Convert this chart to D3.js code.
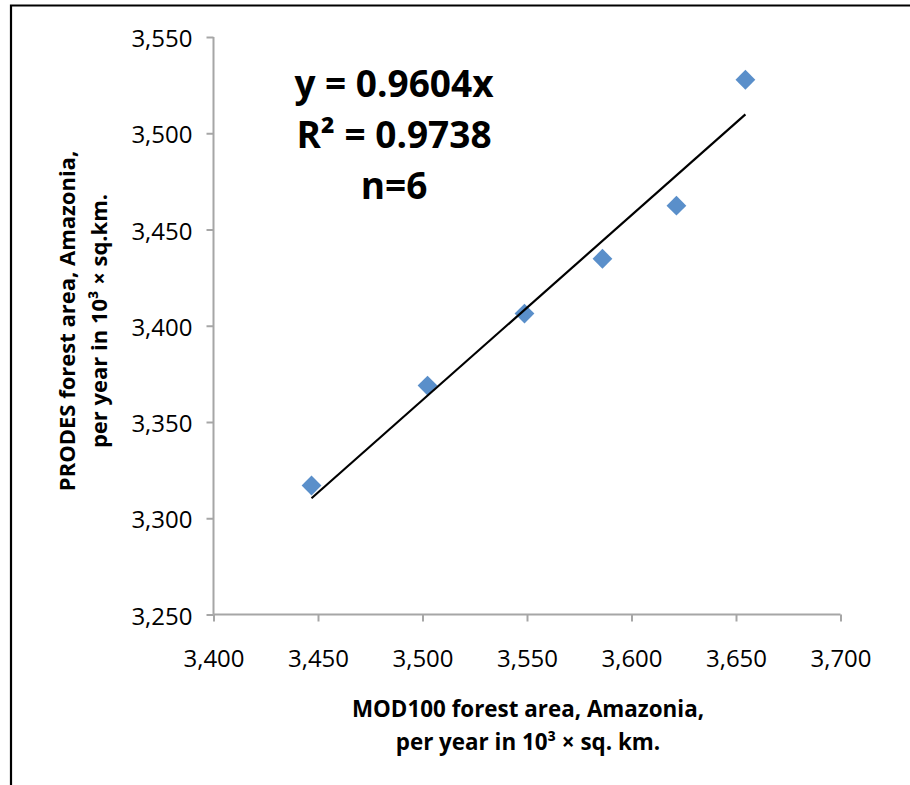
<!DOCTYPE html>
<html>
<head>
<meta charset="utf-8">
<script src="https://cdn.jsdelivr.net/npm/d3@7"></script>
<style>
  html, body { margin: 0; padding: 0; background: #fff; }
  svg { display: block; }
</style>
</head>
<body>
<svg id="chart" width="910" height="785"></svg>
<script>
// values
const MOD100 = [3446.9, 3502.4, 3548.8, 3586.1, 3621.5, 3654.5];
const PRODES = [3317.0, 3368.9, 3406.3, 3434.8, 3462.4, 3527.8];
const X_TICKS = [3400, 3450, 3500, 3550, 3600, 3650, 3700];
const Y_TICKS = [3250, 3300, 3350, 3400, 3450, 3500, 3550];
const SLOPE = 0.9604;
const EQ_LINES = ['y = 0.9604x', 'R² = 0.9738', 'n=6'];
const X_TITLE = ['MOD100 forest area, Amazonia,', 'per year in 10³ × sq. km.'];
const Y_TITLE = ['PRODES forest area, Amazonia,', 'per year in 10³ × sq.km.'];

const FONT = '"Open Sans", "Noto Sans", sans-serif';
const AXIS_COLOR = '#a6a6a6';

const svg = d3.select('#chart');

// outer chart frame (only top and left edges show in the crop)
svg.append('path')
  .attr('d', 'M11,785 V5.5 H910')
  .attr('fill', 'none')
  .attr('stroke', '#000')
  .attr('stroke-width', 2.2);

const x = d3.scaleLinear().domain([3400, 3700]).range([213.5, 840.5]);
const y = d3.scaleLinear().domain([3250, 3550]).range([614.5, 37]);

const xAxis = svg.append('g')
  .attr('transform', `translate(0,${y(3250)})`)
  .call(d3.axisBottom(x).tickValues(X_TICKS).tickSize(7).tickPadding(25).tickFormat(d3.format(',')));

const yAxis = svg.append('g')
  .attr('transform', `translate(${x(3400)},0)`)
  .call(d3.axisLeft(y).tickValues(Y_TICKS).tickSize(7).tickPadding(14).tickFormat(d3.format(',')));

[xAxis, yAxis].forEach(g => {
  g.select('.domain').attr('stroke', AXIS_COLOR).attr('stroke-width', 2);
  g.selectAll('.tick line').attr('stroke', AXIS_COLOR).attr('stroke-width', 2);
  g.selectAll('.tick text')
    .attr('fill', '#000')
    .style('font-family', FONT)
    .style('font-size', '24px');
});
// the axis domain path draws its own outer ticks; redraw as plain lines
xAxis.select('.domain').attr('d', `M${x(3400)},0H${x(3700)}`);
yAxis.select('.domain').attr('d', `M0,${y(3550)}V${y(3250)}`);
xAxis.selectAll('.tick text').attr('dy', '0.85em');
yAxis.selectAll('.tick text').attr('dy', '0.4em');

// trend line through origin, drawn over the data range
const xMin = d3.min(MOD100);
const xMax = d3.max(MOD100);
const pts = MOD100.map((d, i) => ({ x: d, y: PRODES[i] }));

svg.append('g')
  .selectAll('path')
  .data(pts)
  .join('path')
  .attr('d', d3.symbol().type(d3.symbolDiamond2).size(250))
  .attr('transform', d => `translate(${x(d.x)},${y(d.y)})`)
  .attr('fill', '#5a8fca');

svg.append('line')
  .attr('x1', x(xMin)).attr('y1', y(SLOPE * xMin))
  .attr('x2', x(xMax)).attr('y2', y(SLOPE * xMax))
  .attr('stroke', '#000')
  .attr('stroke-width', 2.2);

// regression label
svg.append('g')
  .selectAll('text')
  .data(EQ_LINES)
  .join('text')
  .attr('x', 394)
  .attr('y', (d, i) => 97 + i * 51)
  .attr('text-anchor', 'middle')
  .style('font-family', FONT)
  .style('font-weight', 'bold')
  .style('font-size', '37px')
  .text(d => d);

// axis titles
svg.append('g')
  .selectAll('text')
  .data(X_TITLE)
  .join('text')
  .attr('x', 528)
  .attr('y', (d, i) => 717 + i * 33)
  .attr('text-anchor', 'middle')
  .style('font-family', FONT)
  .style('font-weight', 'bold')
  .style('font-size', '22.4px')
  .text(d => d);

svg.append('g')
  .attr('transform', 'translate(0,321) rotate(-90)')
  .selectAll('text')
  .data(Y_TITLE)
  .join('text')
  .attr('x', 0)
  .attr('y', (d, i) => 75 + i * 32)
  .attr('text-anchor', 'middle')
  .style('font-family', FONT)
  .style('font-weight', 'bold')
  .style('font-size', '22px')
  .text(d => d);
</script>
</body>
</html>
